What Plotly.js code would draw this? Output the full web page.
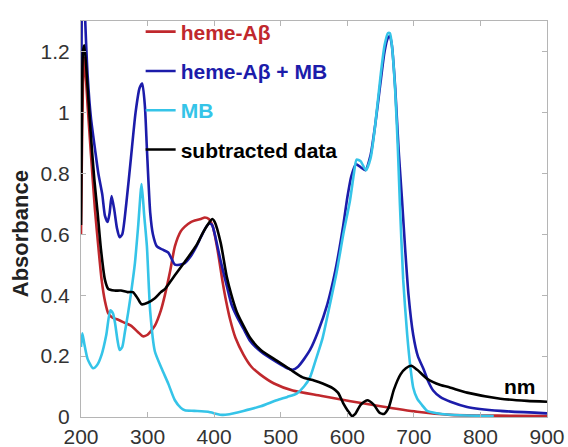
<!DOCTYPE html>
<html>
<head>
<meta charset="utf-8">
<script src="https://cdn.plot.ly/plotly-3.0.1.min.js"></script>
<style>html,body{margin:0;padding:0;background:#fff;}#chart{width:568px;height:447px;}</style>
</head>
<body>
<div id="chart"></div>
<script>
const seriesNames = ['heme-A\u03b2', 'heme-A\u03b2 + MB', 'MB', 'subtracted data'];

const hemeX = [200,201,203,205,210,215,221,226,231,236,241,248,255,265,275,285,293,300,311,320,326,334,341,350,356,365,371,380,386,392,398,405,413,418,424,432,444,456,469,490,518,560,605,650,705,755,800,850,900];
const hemeY = [0.60,0.80,1.10,1.18,1.02,0.86,0.68,0.56,0.45,0.38,0.34,0.325,0.32,0.31,0.30,0.28,0.265,0.27,0.30,0.35,0.40,0.48,0.56,0.61,0.625,0.64,0.645,0.65,0.655,0.65,0.625,0.55,0.44,0.38,0.32,0.26,0.205,0.165,0.14,0.11,0.087,0.07,0.052,0.035,0.017,0.007,0.005,0.004,0.003];

const mixX = [200,201,202,204,206,210,215,221,226,232,236,240,243,246,250,254,258,262,268,275,282,288,292,296,299,304,308,314,322,331,341,348,356,364,371,380,387,393,397,401,410,419,426,434,444,454,470,494,510,518,526,535,544,556,570,582,594,600,606,613,620,627,635,642,650,656,661,664,667,672,677,682,687,692,699,706,714,722,729,740,755,780,830,900];
const mixY = [0.86,1.3,1.45,1.45,1.32,1.12,0.98,0.88,0.80,0.73,0.66,0.64,0.67,0.725,0.68,0.62,0.59,0.60,0.70,0.85,1.0,1.08,1.095,1.02,0.88,0.67,0.60,0.56,0.55,0.54,0.50,0.50,0.505,0.525,0.55,0.59,0.62,0.635,0.63,0.60,0.51,0.43,0.37,0.33,0.29,0.25,0.215,0.18,0.16,0.155,0.165,0.19,0.22,0.28,0.37,0.48,0.63,0.72,0.79,0.83,0.82,0.81,0.86,0.96,1.10,1.20,1.245,1.25,1.22,1.08,0.88,0.72,0.55,0.40,0.27,0.20,0.16,0.115,0.087,0.065,0.05,0.033,0.02,0.012];

const mbX = [200,202,205,210,218,224,231,238,244,248,251,255,258,262,266,271,276,281,286,291,295,299,304,311,321,331,341,350,356,370,391,404,412,420,444,470,494,510,524,535,544,553,563,573,584,594,604,610,614,620,628,635,642,650,656,661,664,667,672,676,679,684,690,695,699,705,712,720,735,750,780,820];
const mbY = [0.23,0.275,0.24,0.19,0.16,0.17,0.205,0.27,0.35,0.34,0.31,0.25,0.22,0.23,0.28,0.345,0.42,0.505,0.63,0.765,0.66,0.56,0.345,0.215,0.16,0.11,0.055,0.03,0.022,0.02,0.017,0.01,0.007,0.008,0.02,0.035,0.055,0.066,0.077,0.10,0.13,0.19,0.26,0.36,0.475,0.60,0.71,0.80,0.845,0.84,0.81,0.85,0.96,1.12,1.22,1.26,1.26,1.22,1.07,0.88,0.70,0.45,0.27,0.16,0.097,0.06,0.04,0.02,0.012,0.008,0.005,0.003];

const subX = [200,201,203,205,210,215,220,225,230,236,241,250,260,270,278,285,291,300,311,320,326,336,346,356,366,375,382,390,397,401,410,419,426,434,444,454,470,494,515,533,550,563,578,586,594,601,607,612,620,630,640,648,655,662,670,680,688,696,705,720,740,754,780,830,870,900];
const subY = [0.63,0.9,1.2,1.22,1.08,0.92,0.78,0.67,0.55,0.45,0.42,0.415,0.415,0.41,0.41,0.39,0.37,0.375,0.39,0.41,0.42,0.45,0.48,0.51,0.54,0.57,0.60,0.63,0.65,0.64,0.57,0.46,0.40,0.345,0.30,0.26,0.22,0.185,0.155,0.13,0.12,0.11,0.095,0.08,0.045,0.02,0.003,0.01,0.04,0.055,0.04,0.015,0.01,0.03,0.09,0.14,0.16,0.168,0.155,0.125,0.105,0.097,0.08,0.06,0.053,0.05];

const xTicks = [200,300,400,500,600,700,800,900];
const yTicks = [0,0.2,0.4,0.6,0.8,1,1.2];
const yTickText = ['0','0.2','0.4','0.6','0.8','1','1.2'];

const colors = ['#c0282d', '#1c1caa', '#35c4e8', '#000000'];

function mk(x, y, i, rank) {
  return {
    x: x, y: y, type: 'scatter', mode: 'lines',
    name: '<span style="color:' + colors[i] + '"><b>' + seriesNames[i] + '</b></span>',
    line: {color: colors[i], width: 2.6, shape: 'spline', smoothing: 0.6},
    legendgroup: 'g' + i, legendrank: rank
  };
}

const data = [
  mk(hemeX, hemeY, 0, 1),
  mk(mixX, mixY, 1, 2),
  mk(mbX, mbY, 2, 3),
  mk(subX, subY, 3, 4)
];

const fam = 'Liberation Sans, Arial, sans-serif';
const axisFont = {family: fam, size: 21, color: '#333'};

const layout = {
  width: 568, height: 447,
  margin: {l: 81, r: 21, t: 14, b: 30},
  paper_bgcolor: '#fff', plot_bgcolor: '#fff',
  showlegend: true,
  legend: {
    x: 0.128, y: 1.024, xanchor: 'left', yanchor: 'top',
    bgcolor: 'rgba(0,0,0,0)', tracegroupgap: 9,
    font: {family: fam, size: 21, color: '#000'},
    itemwidth: 30
  },
  xaxis: {
    range: [200, 900], tickvals: xTicks, ticktext: xTicks.map(String),
    showline: true, mirror: 'ticks', linecolor: '#b5b5b5', linewidth: 1,
    ticks: 'inside', ticklen: 5, tickcolor: '#b5b5b5', ticklabelstandoff: 1,
    showgrid: false, zeroline: false, tickfont: axisFont
  },
  yaxis: {
    range: [0, 1.3], tickvals: yTicks, ticktext: yTickText,
    showline: true, mirror: 'ticks', linecolor: '#b5b5b5', linewidth: 1,
    ticks: 'inside', ticklen: 5, tickcolor: '#b5b5b5', ticklabelstandoff: 6,
    showgrid: false, zeroline: false, tickfont: axisFont
  },
  annotations: [
    {
      x: 860, y: 0.1, xref: 'x', yref: 'y', text: '<b>nm</b>', showarrow: false,
      font: {family: fam, size: 21, color: '#000'}
    },
    {
      x: -0.131, y: 0.464, xref: 'paper', yref: 'paper', text: '<b>Absorbance</b>',
      showarrow: false, textangle: -90, xanchor: 'center', yanchor: 'middle',
      font: {family: fam, size: 22, color: '#222'}
    }
  ]
};

Plotly.newPlot('chart', data, layout, {displayModeBar: false, staticPlot: true});
</script>
</body>
</html>
